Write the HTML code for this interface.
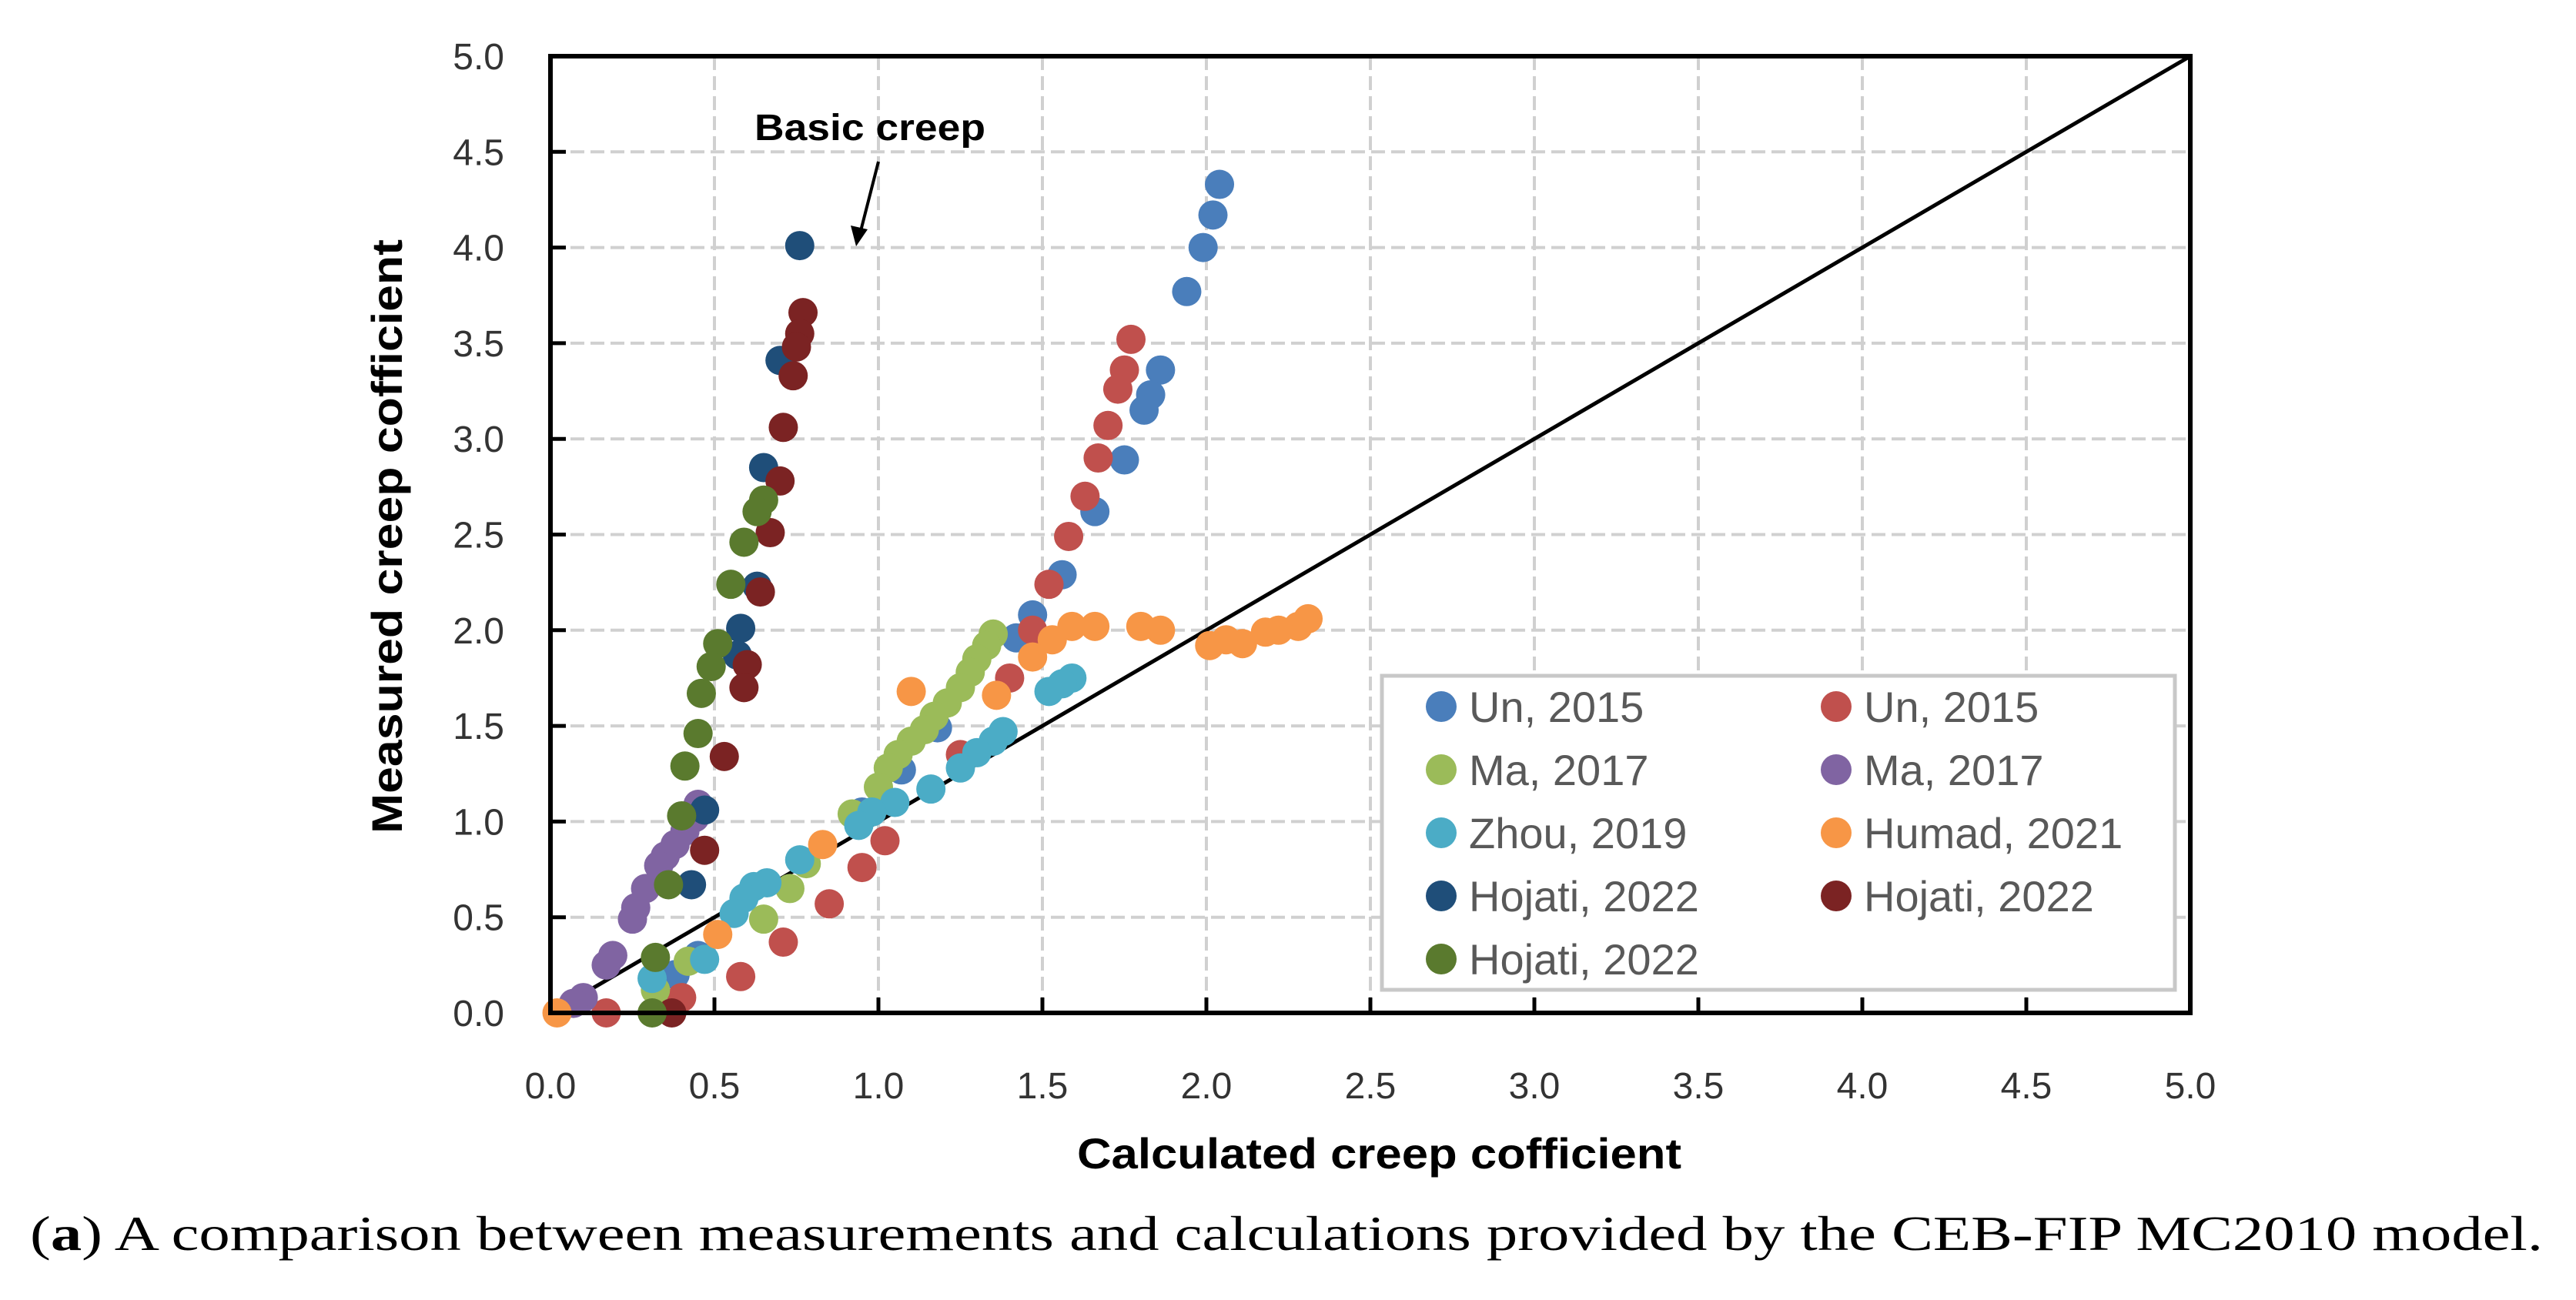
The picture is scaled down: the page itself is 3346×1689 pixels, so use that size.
<!DOCTYPE html>
<html><head><meta charset="utf-8"><style>
body{margin:0;background:#fff}
svg{display:block}
text{font-family:"Liberation Sans",sans-serif}
</style></head><body>
<svg id="chart" width="3346" height="1689" viewBox="0 0 3346 1689">
<g id="grid"></g>
<line x1="715" y1="1316" x2="2845" y2="73" stroke="#000" stroke-width="5"/>
<g id="pts"></g>
<rect x="715" y="73" width="2130" height="1243" fill="none" stroke="#000" stroke-width="6"/>
<g id="ticks"></g>
<g id="legend">
<rect x="1795" y="878" width="1030" height="408" fill="#fff" stroke="#c8c8c8" stroke-width="5"/>
</g>
<text x="980" y="182" font-size="48" font-weight="bold" textLength="300" lengthAdjust="spacingAndGlyphs">Basic creep</text>
<line x1="1141" y1="210" x2="1118" y2="300" stroke="#000" stroke-width="4"/>
<polygon points="1112,320 1105,293 1127,298" fill="#000"/>
<text transform="translate(522,697) rotate(-90)" font-size="56" font-weight="bold" text-anchor="middle" textLength="772" lengthAdjust="spacingAndGlyphs">Measured creep cofficient</text>
<text x="1399" y="1518" font-size="56" font-weight="bold" textLength="785" lengthAdjust="spacingAndGlyphs">Calculated creep cofficient</text>
<text x="39" y="1624" font-size="64" textLength="3264" lengthAdjust="spacingAndGlyphs" style="font-family:'Liberation Serif',serif">(<tspan font-weight="bold">a</tspan>) A comparison between measurements and calculations provided by the CEB-FIP MC2010 model.</text>
</svg>
<script>
const ticks=[0,0.5,1,1.5,2,2.5,3,3.5,4,4.5,5];
const tickLabels=["0.0","0.5","1.0","1.5","2.0","2.5","3.0","3.5","4.0","4.5","5.0"];
const seriesNames=["Un, 2015","Un, 2015","Ma, 2017","Ma, 2017","Zhou, 2019","Humad, 2021","Hojati, 2022","Hojati, 2022","Hojati, 2022"];
const seriesColors=["#4a7ebb","#c0504d","#9bbb59","#8064a2","#4bacc6","#f79646","#1f4e79","#7b2323","#5a7a2e"];
const unBlue=[[2.04,4.33],[2.02,4.17],[1.99,4.0],[1.94,3.77],[1.86,3.36],[1.83,3.23],[1.81,3.15],[1.75,2.89],[1.66,2.62],[1.56,2.29],[1.47,2.08],[1.42,1.96],[1.18,1.49],[1.07,1.27],[0.95,1.05],[0.45,0.3],[0.38,0.2]];
const unRed=[[1.77,3.52],[1.75,3.36],[1.73,3.26],[1.70,3.07],[1.67,2.90],[1.63,2.70],[1.58,2.49],[1.52,2.24],[1.47,2.0],[1.40,1.75],[1.25,1.35],[1.02,0.9],[0.95,0.76],[0.85,0.57],[0.71,0.37],[0.58,0.19],[0.40,0.08],[0.17,0.0]];
const maGreen=[[1.35,1.98],[1.33,1.92],[1.30,1.85],[1.28,1.78],[1.25,1.70],[1.21,1.62],[1.17,1.55],[1.14,1.48],[1.10,1.42],[1.06,1.35],[1.03,1.28],[1.0,1.18],[0.92,1.04],[0.78,0.78],[0.73,0.65],[0.65,0.49],[0.42,0.27],[0.32,0.12]];
const maPurple=[[0.45,1.09],[0.44,1.02],[0.41,0.95],[0.38,0.88],[0.35,0.82],[0.33,0.77],[0.29,0.65],[0.26,0.55],[0.25,0.49],[0.19,0.3],[0.17,0.25],[0.1,0.08],[0.07,0.05]];
const zhou=[[1.59,1.75],[1.56,1.72],[1.52,1.68],[1.38,1.47],[1.35,1.42],[1.30,1.36],[1.25,1.28],[1.16,1.17],[1.05,1.1],[0.98,1.05],[0.94,0.98],[0.76,0.8],[0.66,0.68],[0.62,0.66],[0.59,0.6],[0.56,0.52],[0.47,0.28],[0.31,0.18]];
const humad=[[2.31,2.06],[2.28,2.02],[2.22,2.0],[2.18,1.99],[2.11,1.93],[2.06,1.95],[2.01,1.92],[1.86,2.0],[1.80,2.02],[1.66,2.02],[1.59,2.02],[1.53,1.95],[1.47,1.86],[1.36,1.66],[1.10,1.68],[0.83,0.88],[0.51,0.41],[0.02,0.0]];
const hojatiNavy=[[0.76,4.01],[0.70,3.41],[0.65,2.85],[0.58,2.01],[0.57,1.87],[0.63,2.23],[0.47,1.06],[0.43,0.67]];
const hojatiRed=[[0.77,3.66],[0.76,3.55],[0.75,3.48],[0.74,3.33],[0.71,3.06],[0.70,2.78],[0.67,2.51],[0.64,2.20],[0.60,1.82],[0.59,1.70],[0.53,1.34],[0.47,0.85],[0.37,0.0]];
const hojatiOlive=[[0.65,2.68],[0.63,2.62],[0.59,2.46],[0.55,2.24],[0.51,1.93],[0.49,1.81],[0.46,1.67],[0.45,1.46],[0.41,1.29],[0.40,1.03],[0.36,0.67],[0.32,0.29],[0.31,0.0]];
const allSeries=[unBlue,unRed,maGreen,maPurple,zhou,humad,hojatiNavy,hojatiRed,hojatiOlive];

const NS="http://www.w3.org/2000/svg";
const X0=715,X1=2845,Y0=1316,Y1=73;
function sx(v){return X0+(X1-X0)*v/5;}
function sy(v){return Y0-(Y0-Y1)*v/5;}
function mk(tag,attrs,parent){const e=document.createElementNS(NS,tag);for(const k in attrs)e.setAttribute(k,attrs[k]);parent.appendChild(e);return e;}
const grid=document.getElementById('grid'),tk=document.getElementById('ticks'),pts=document.getElementById('pts'),lg=document.getElementById('legend');
ticks.forEach((t,i)=>{
  if(i>0&&i<ticks.length-1){
    const gv=mk('line',{x1:sx(t),y1:Y1,x2:sx(t),y2:Y0,stroke:'#d0d0d0','stroke-width':4,'stroke-dasharray':'18 8'},grid);
    
    
    const gh=mk('line',{x1:X0,y1:sy(t),x2:X1,y2:sy(t),stroke:'#d0d0d0','stroke-width':4,'stroke-dasharray':'18 8'},grid);
    
    
    const a=mk('line',{x1:sx(t),y1:Y0,x2:sx(t),y2:Y0-20,stroke:'#000','stroke-width':5},tk);
    
    
    const b=mk('line',{x1:X0,y1:sy(t),x2:X0+20,y2:sy(t),stroke:'#000','stroke-width':5},tk);
    
    
  }
  const lx=mk('text',{x:sx(t),y:1427,'font-size':48,'text-anchor':'middle',fill:'#333'},tk);
  lx.textContent=tickLabels[i];
  
  
  const ly=mk('text',{x:655,y:sy(t)+17,'font-size':48,'text-anchor':'end',fill:'#333'},tk);
  ly.textContent=tickLabels[i];
  
  
});
allSeries.forEach((s,si)=>{
  s.forEach(p=>{
    const c=mk('circle',{cx:sx(p[0]),cy:sy(p[1]),r:19,fill:seriesColors[si]},pts);
    
    
  });
});
seriesNames.forEach((n,i)=>{
  const col=i%2,row=Math.floor(i/2);
  const cx=col?2385:1872, cy=918+row*82;
  const c=mk('circle',{cx:cx,cy:cy,r:20,fill:seriesColors[i]},lg);
  
  
  const t=mk('text',{x:cx+36,y:cy+20,'font-size':56,fill:'#595959'},lg);
  t.textContent=n;
  
  
});
</script>
</body></html>
